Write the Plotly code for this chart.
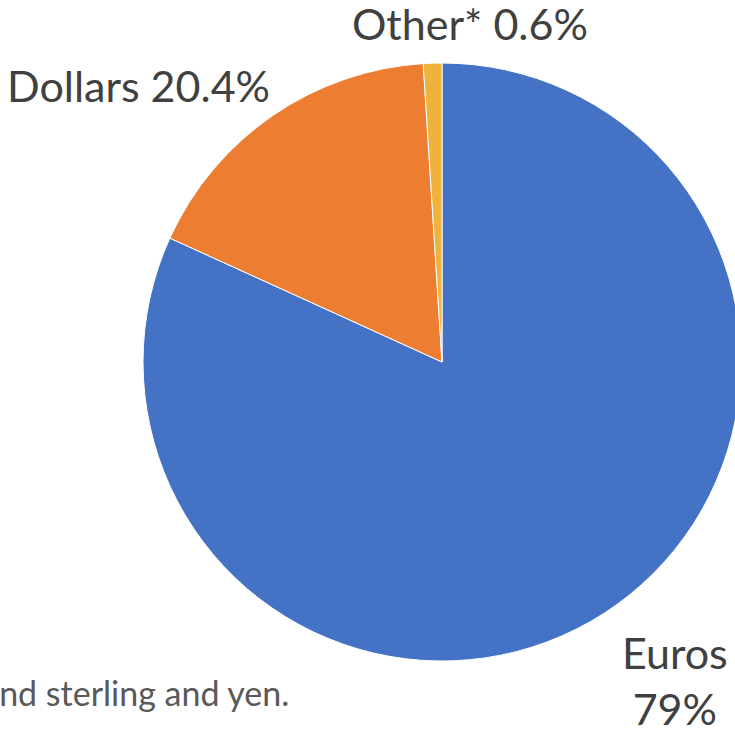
import plotly.graph_objects as go

# Data
categories = ["Euros", "Dollars", "Other*"]
shares = [81.8, 17.2, 1.0]          # slice sizes as drawn
label_texts = ["Euros<br>79%", "Dollars 20.4%", "Other* 0.6%"]
colors = ["#4472C4", "#ED7D31", "#EDB33A"]
footnote = "*Other includes pound sterling and yen."

W, H = 745, 730
fig = go.Figure(go.Pie(
    labels=categories,
    values=shares,
    sort=False,
    direction="clockwise",
    rotation=0,
    marker=dict(colors=colors, line=dict(color="white", width=1)),
    textinfo="none",
    hoverinfo="label+percent",
    showlegend=False,
    domain=dict(x=[143 / W, 741 / W], y=[1 - 661 / H, 1 - 63 / H]),
))

font = dict(family="Lato, Carlito, Calibri, sans-serif", color="#404040", size=43)
ann_pos = [(675, 680), (138, 86), (470, 23)]
for txt, (x, y) in zip(label_texts, ann_pos):
    fig.add_annotation(x=x / W, y=1 - y / H, xref="paper", yref="paper",
                       text=txt, showarrow=False, font=font,
                       xanchor="center", yanchor="middle")

fig.add_annotation(x=291 / W, y=1 - 692 / H, xref="paper", yref="paper",
                   text=footnote, showarrow=False,
                   font=dict(family="Lato, Carlito, Calibri, sans-serif", color="#595959", size=34),
                   xanchor="right", yanchor="middle")

fig.update_layout(width=W, height=H, margin=dict(l=0, r=0, t=0, b=0),
                  paper_bgcolor="white", plot_bgcolor="white")
fig.write_html("out.html", config={"displayModeBar": False},
               post_script="document.body.style.margin='0';document.body.style.overflow='hidden';")
